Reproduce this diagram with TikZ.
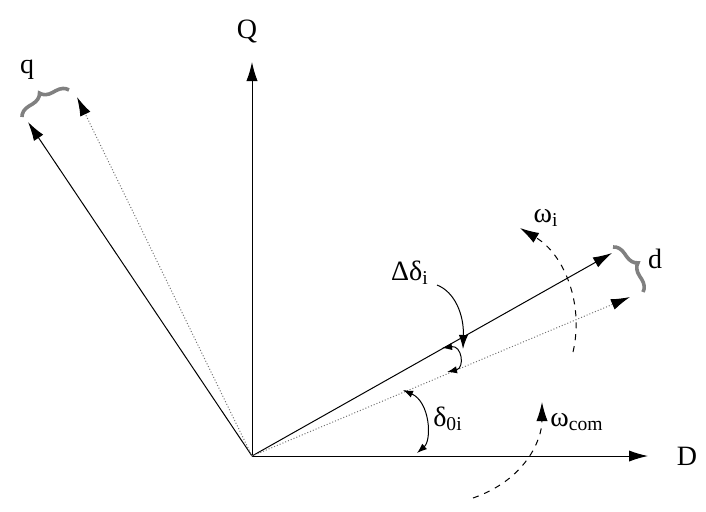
\documentclass[tikz,border=0pt]{standalone}
\usepackage{fontspec}
\setmainfont{Liberation Serif}
\usepackage{tikz}
\usetikzlibrary{arrows.meta,decorations.pathreplacing}

\begin{document}
\begin{tikzpicture}[x=0.5pt,y=-0.5pt,line width=0.5pt,
		>={Latex[length=9.5pt,width=5.6pt]},
		small/.style={{Latex[length=5pt,width=3.6pt]}-{Latex[length=5pt,width=3.6pt]}},
		ghost/.style={densely dotted,draw=black!55,-{Latex[length=9.5pt,width=5.6pt,color=black]}},
		turn/.style={dashed,->},
		curly/.style={draw=black!50,line width=1.8pt,decorate,decoration={brace,amplitude=6pt}},
		font=\fontsize{14}{16}\selectfont]
		\useasboundingbox (0,0) rectangle (706,511);
		\coordinate (O) at (252,456);
		\coordinate (Dt) at (648,456);
		\coordinate (Qt) at (252,62);
		\coordinate (qt) at (28,122);
		\coordinate (qo) at (77,97);
		\coordinate (dt) at (612,253);
		\coordinate (do) at (630,297);
		%
		\node (D) at (687,456) {D};
		\node (Q) at (247,31) {Q};
		\node (q) at (27,70) {q};
		\node (d) at (655,259) {d};
		\node (wi) at (546,218) {ω\textsubscript{i}};
		\node (dd) at (410,273) {Δδ\textsubscript{i}};
		\node (d0) at (448,419) {δ\textsubscript{0i}};
		\node (wc) at (577,422) {ω\textsubscript{com}};
		%
		\path[->]
		(O) edge (Dt)
		(O) edge (Qt)
		(O) edge (qt)
		(O) edge (dt);
		\draw[ghost] (O) -- (qo);
		\draw[ghost] (O) -- (do);
		%
		\coordinate (b1) at (22,117);
		\coordinate (b2) at (69,90);
		\coordinate (b3) at (613,247);
		\coordinate (b4) at (643,292);
		\draw[curly] (b1) -- (b2);
		\draw[curly] (b3) -- (b4);
		%
		\coordinate (wiS) at (573,352);
		\coordinate (wiE) at (520,228);
		\draw[turn] (wiS) .. controls (584,305) and (565,255) .. (wiE);
		\coordinate (wcS) at (473,498);
		\coordinate (wcE) at (542,402);
		\draw[turn] (wcS) .. controls (525,480) and (542,440) .. (wcE);
		%
		\coordinate (ddS) at (437,285);
		\coordinate (ddE) at (463,349);
		\draw[->,>={Latex[length=7pt,width=4.6pt]}] (ddS) .. controls (455,292) and (464,315) .. (ddE);
		\coordinate (a1) at (442,348);
		\coordinate (a2) at (447,372);
		\draw[small] (a1) .. controls (462,345) and (465,368) .. (a2);
		\coordinate (a3) at (403,390);
		\coordinate (a4) at (417,453);
		\draw[small] (a3) .. controls (430,402) and (432,440) .. (a4);
		\end{tikzpicture}
\end{document}
